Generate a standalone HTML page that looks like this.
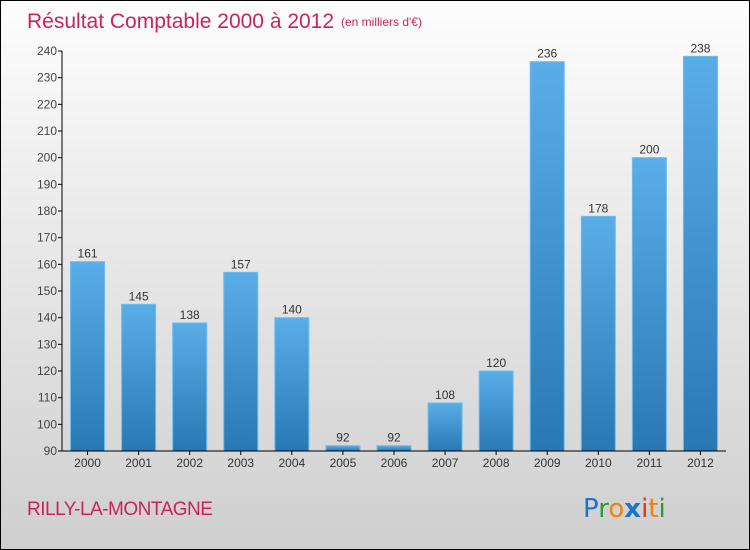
<!DOCTYPE html>
<html><head><meta charset="utf-8"><style>
body{margin:0;}
#wrap{position:relative;width:750px;height:550px;box-sizing:border-box;border:1px solid #000;background:linear-gradient(#fdfdfd,#cfcfcf);font-family:"Liberation Sans",sans-serif;overflow:hidden;}
svg{position:absolute;left:0;top:0;}
</style></head><body>
<div id="wrap">
<svg id="c" width="750" height="550">
<defs><linearGradient id="g" x1="0" y1="0" x2="0" y2="1"><stop offset="0" stop-color="#5aaee8"/><stop offset="1" stop-color="#2878b4"/></linearGradient></defs>
<text x="26" y="27" font-size="21" fill="#c8245a">Résultat Comptable 2000 à 2012</text>
<text x="340" y="25" font-size="12" fill="#c8245a">(en milliers d'€)</text>
<text x="26" y="514" font-size="19" fill="#c8245a" letter-spacing="-0.5">RILLY-LA-MONTAGNE</text>
<g font-size="26" font-family="'DejaVu Sans',sans-serif">
<text x="582" y="516"><tspan fill="#1a74c8">P</tspan><tspan fill="#2a9a3a">r</tspan><tspan fill="#f08010">o</tspan><tspan fill="#1a74c8" font-weight="bold">x</tspan><tspan fill="#e83020">i</tspan><tspan fill="#f08010">t</tspan><tspan fill="#2a9a3a">i</tspan></text></g>
</svg>
</div>
<script>
const categories=["2000","2001","2002","2003","2004","2005","2006","2007","2008","2009","2010","2011","2012"];
const values=[161,145,138,157,140,92,92,108,120,236,178,200,238];
const yTicks=[90,100,110,120,130,140,150,160,170,180,190,200,210,220,230,240];
const svg=document.getElementById('c');const NS="http://www.w3.org/2000/svg";
const x0=61,x1=725,yB=450,yT=50,vMin=90,vMax=240;
const band=(x1-x0)/categories.length;
const y=v=>yB-(v-vMin)/(vMax-vMin)*(yB-yT);
const xc=i=>x0+band*(i+0.5);
function mk(t,a){const e=document.createElementNS(NS,t);for(const k in a)e.setAttribute(k,a[k]);svg.appendChild(e);return e;}
yTicks.forEach(t=>{
const l=mk('line',{x1:x0-4,x2:x0,y1:y(t),y2:y(t),stroke:'#000'});


const tx=mk('text',{x:x0-5,y:y(t)+4,'font-size':12,fill:'#444','text-anchor':'end'});tx.textContent=t;


});
values.forEach((v,i)=>{
const r=mk('rect',{x:xc(i)-17,y:y(v),width:34,height:yB-y(v),fill:'url(#g)',stroke:'#6cbcf0','stroke-width':1});


const t=mk('text',{x:xc(i),y:y(v)-4,'font-size':12,fill:'#333','text-anchor':'middle'});t.textContent=v;


const c=mk('text',{x:xc(i),y:yB+16,'font-size':12,fill:'#333','text-anchor':'middle'});c.textContent=categories[i];


const k=mk('line',{x1:xc(i),x2:xc(i),y1:yB,y2:yB+4,stroke:'#000'});


});
const ya=mk('line',{x1:x0,x2:x0,y1:yT,y2:yB,stroke:'#000'});


const xa=mk('line',{x1:x0,x2:x1,y1:yB,y2:yB,stroke:'#000'});


</script>
</body></html>
